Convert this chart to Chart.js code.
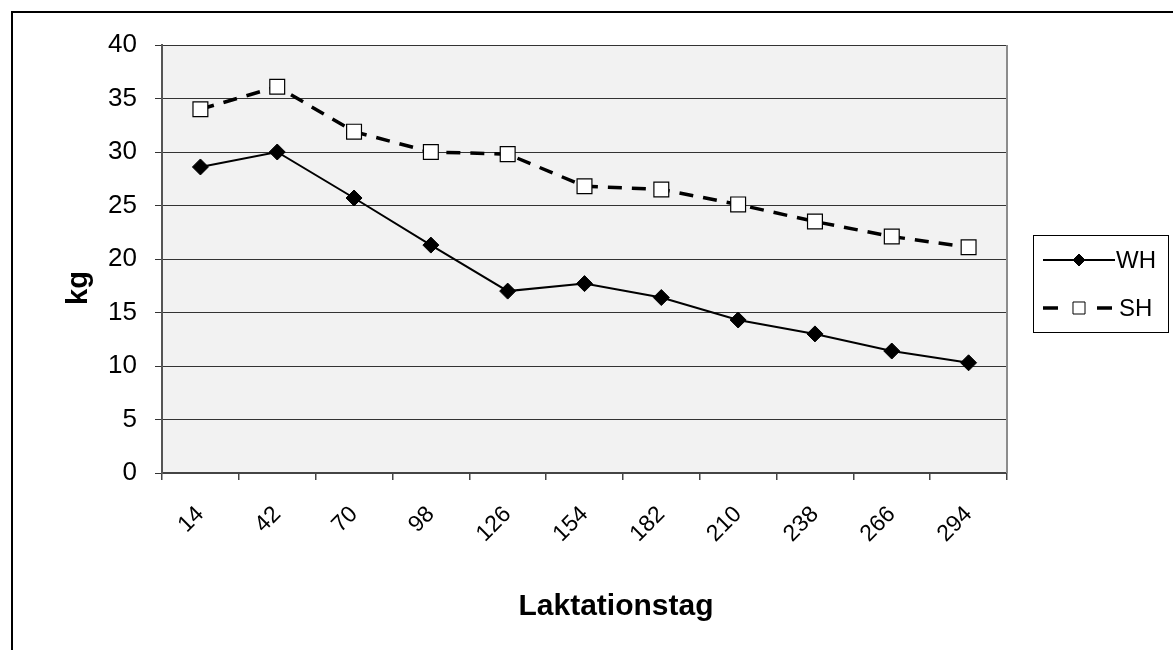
<!DOCTYPE html>
<html><head><meta charset="utf-8">
<script src="https://cdn.jsdelivr.net/npm/chart.js@4.4.0/dist/chart.umd.min.js"></script>
<style>html,body{margin:0;padding:0;background:#fff;overflow:hidden}#wrap{width:1173px;height:650px;position:relative}</style>
</head><body><div id="wrap"><canvas id="c" width="1173" height="650"></canvas></div>
<script>
const categories = ['14','42','70','98','126','154','182','210','238','266','294'];
const seriesNames = ['WH','SH'];
const whValues = [28.6, 30.0, 25.7, 21.3, 17.0, 17.7, 16.4, 14.3, 13.0, 11.4, 10.3];
const shValues = [34.0, 36.1, 31.9, 30.0, 29.8, 26.8, 26.5, 25.1, 23.5, 22.1, 21.1];
const yTickValues = [0, 5, 10, 15, 20, 25, 30, 35, 40];
const xTitle = 'Laktationstag';
const yTitle = 'kg';

const FONT = "'Liberation Sans', Arial, sans-serif";

const deco = {
  id: 'deco',
  beforeDraw(chart) {
    const {ctx, chartArea: a} = chart;
    ctx.save();
    ctx.fillStyle = '#fff';
    ctx.fillRect(0, 0, chart.width, chart.height);
    ctx.fillStyle = '#f2f2f2';
    ctx.fillRect(a.left, a.top, a.right - a.left, a.bottom - a.top);
    ctx.strokeStyle = '#000';
    ctx.lineWidth = 2;
    ctx.beginPath();
    ctx.moveTo(12, chart.height);
    ctx.lineTo(12, 12);
    ctx.lineTo(chart.width, 12);
    ctx.stroke();
    ctx.restore();
  },
  beforeDatasetsDraw(chart) {
    const {ctx, chartArea: a} = chart;
    ctx.save();
    ctx.strokeStyle = '#8c8c8c';
    ctx.lineWidth = 2;
    ctx.beginPath();
    ctx.moveTo(a.right, a.top);
    ctx.lineTo(a.right, a.bottom);
    ctx.stroke();
    ctx.restore();
  },
  afterDraw(chart) {
    const {ctx} = chart;
    const ds = chart.data.datasets;
    ctx.save();
    ctx.strokeStyle = '#000';
    ctx.lineWidth = 1;
    ctx.strokeRect(1033.5, 235.5, 135, 97);
    const rows = [260, 308];
    ds.forEach((d, i) => {
      const y = rows[i];
      ctx.strokeStyle = '#000';
      ctx.lineWidth = d.borderWidth;
      ctx.setLineDash([]);
      ctx.beginPath();
      if (d.borderDash && d.borderDash.length) {
        ctx.moveTo(1043, y); ctx.lineTo(1058, y);
        ctx.moveTo(1097, y); ctx.lineTo(1112, y);
      } else {
        ctx.moveTo(1043, y); ctx.lineTo(1115, y);
      }
      ctx.stroke();
      ctx.fillStyle = d.pointBackgroundColor;
      ctx.strokeStyle = d.pointBorderColor;
      ctx.lineWidth = 1;
      Chart.helpers.drawPoint(ctx, {pointStyle: d.pointStyle, radius: d.pointStyle === 'rect' ? 8.5 : 6, borderWidth: 1, rotation: 0}, 1079, y);
      ctx.fillStyle = '#000';
      ctx.font = '24px ' + FONT;
      ctx.textAlign = 'left';
      ctx.textBaseline = 'middle';
      ctx.fillText(d.label, i === 0 ? 1116 : 1119, y + 1);
    });
    ctx.fillStyle = '#000';
    ctx.font = 'bold 30px ' + FONT;
    ctx.textAlign = 'center';
    ctx.textBaseline = 'middle';
    ctx.fillText(xTitle, 616, 607);
    ctx.font = 'bold 29px ' + FONT;
    ctx.translate(79, 288);
    ctx.rotate(-Math.PI / 2);
    ctx.fillText(yTitle, 0, 0);
    ctx.restore();
  }
};

new Chart(document.getElementById('c'), {
  type: 'line',
  data: {
    labels: categories,
    datasets: [
      {
        label: seriesNames[0], data: whValues,
        borderColor: '#000', borderWidth: 2, tension: 0,
        pointStyle: 'rectRot', pointRadius: 8, pointHoverRadius: 8,
        pointBackgroundColor: '#000', pointBorderColor: '#000', pointBorderWidth: 1
      },
      {
        label: seriesNames[1], data: shValues,
        borderColor: '#000', borderWidth: 3.5, borderDash: [14, 10], tension: 0,
        pointStyle: 'rect', pointRadius: 10.5, pointHoverRadius: 10.5,
        pointBackgroundColor: '#fff', pointBorderColor: '#000', pointBorderWidth: 1.2
      }
    ]
  },
  options: {
    responsive: false,
    animation: false,
    devicePixelRatio: 1,
    layout: {padding: {left: 0, top: 45, right: 166, bottom: 0}},
    plugins: {legend: {display: false}, tooltip: {enabled: false}},
    scales: {
      x: {
        offset: true,
        grid: {display: true, drawOnChartArea: false, drawTicks: true, tickLength: 7, color: '#444', lineWidth: 1.5, offset: true},
        border: {display: true, color: '#444', width: 2},
        ticks: {autoSkip: false, minRotation: 45, maxRotation: 45, padding: 21, color: '#000', font: {family: FONT, size: 23}},
        afterFit(s) { s.height = 177; }
      },
      y: {
        min: 0, max: 40,
        afterBuildTicks(s) { s.ticks = yTickValues.map(v => ({value: v})); },
        grid: {color: '#333', lineWidth: 1, drawTicks: true, tickLength: 7},
        border: {display: true, color: '#555', width: 2},
        ticks: {padding: 18, color: '#000', font: {family: FONT, size: 26}},
        afterFit(s) { s.width = 162; }
      }
    }
  },
  plugins: [deco]
});
</script>
</body></html>
